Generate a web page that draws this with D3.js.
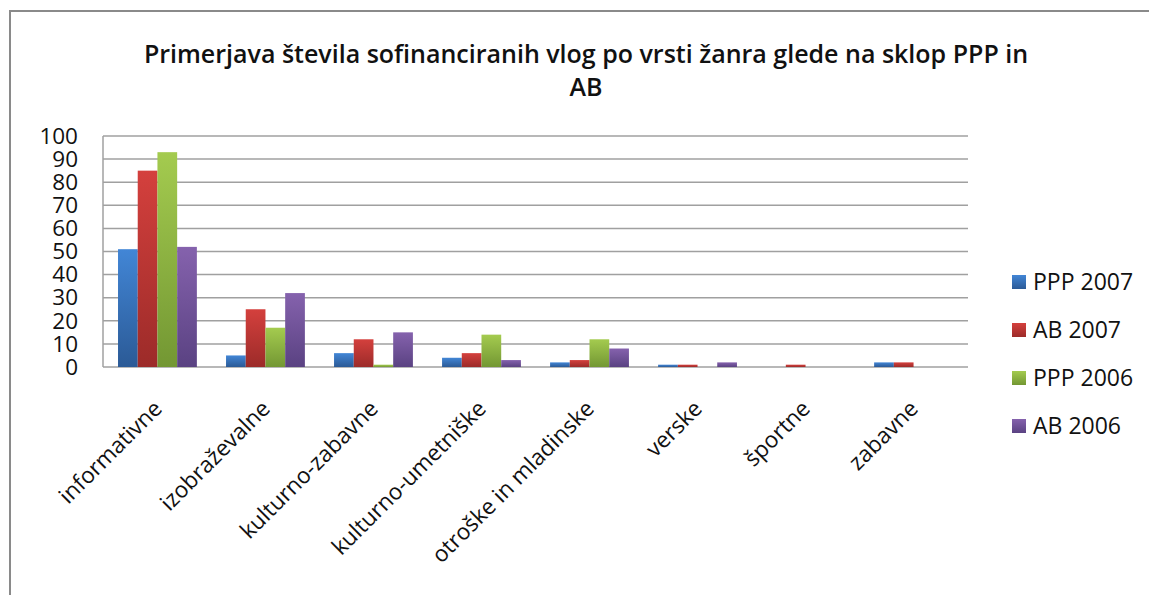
<!DOCTYPE html>
<html>
<head>
<meta charset="utf-8">
<script src="https://cdn.jsdelivr.net/npm/d3@7"></script>
<style>
  body { margin: 0; background: #fff; }
  svg { display: block; font-family: "Open Sans", "DejaVu Sans", sans-serif; }
</style>
</head>
<body>
<div id="chart"></div>
<script>
// data
const categories = ["informativne", "izobraževalne", "kulturno-zabavne", "kulturno-umetniške", "otroške in mladinske", "verske", "športne", "zabavne"];
const seriesNames = ["PPP 2007", "AB 2007", "PPP 2006", "AB 2006"];
const ppp2007 = [51, 5, 6, 4, 2, 1, 0, 2];
const ab2007  = [85, 25, 12, 6, 3, 1, 1, 2];
const ppp2006 = [93, 17, 1, 14, 12, 0, 0, 0];
const ab2006  = [52, 32, 15, 3, 8, 2, 0, 0];
const yTicks = [0, 10, 20, 30, 40, 50, 60, 70, 80, 90, 100];

const series = [ppp2007, ab2007, ppp2006, ab2006];
const colors = [
  { top: "#4286d6", bottom: "#2b5a96" },
  { top: "#d4403d", bottom: "#9c2b29" },
  { top: "#a4cb4f", bottom: "#739733" },
  { top: "#8562ad", bottom: "#5a4282" }
];

const width = 1149, height = 595;
const plot = { left: 103, right: 968, top: 136, bottom: 367 };

const svg = d3.select("#chart").append("svg")
  .attr("width", width).attr("height", height);

const defs = svg.append("defs");
colors.forEach((c, i) => {
  const g = defs.append("linearGradient").attr("id", "grad" + i)
    .attr("x1", 0).attr("y1", 0).attr("x2", 0).attr("y2", 1);
  g.append("stop").attr("offset", "0%").attr("stop-color", c.top);
  g.append("stop").attr("offset", "100%").attr("stop-color", c.bottom);
});

// outer chart frame (runs off the right and bottom of the picture)
svg.append("rect").attr("x", 10).attr("y", 11).attr("width", 1200).attr("height", 700)
  .attr("fill", "none").attr("stroke", "#8a8a8a").attr("stroke-width", 2);

// title
const title = svg.append("text").attr("text-anchor", "middle")
  .attr("font-size", 25).attr("font-weight", 600).attr("fill", "#111");
title.append("tspan").attr("x", 586).attr("y", 63).text("Primerjava števila sofinanciranih vlog po vrsti žanra glede na sklop PPP in");
title.append("tspan").attr("x", 586).attr("y", 96).text("AB");

const x = d3.scaleBand().domain(categories).range([plot.left, plot.right])
  .paddingInner(0.27).paddingOuter(0.139);
const xs = d3.scaleBand().domain(d3.range(series.length)).range([0, x.bandwidth()]);
const y = d3.scaleLinear().domain([0, 100]).range([plot.bottom, plot.top]);

// grid
svg.append("g").selectAll("line").data(yTicks).join("line")
  .attr("x1", plot.left).attr("x2", plot.right)
  .attr("y1", d => y(d)).attr("y2", d => y(d))
  .attr("stroke", "#a0a0a0").attr("stroke-width", 1.5);
svg.append("line").attr("x1", plot.left).attr("x2", plot.left)
  .attr("y1", plot.top).attr("y2", plot.bottom)
  .attr("stroke", "#a0a0a0").attr("stroke-width", 1.5);

// y axis labels
const yAxis = svg.append("g").attr("transform", `translate(${plot.left},0)`)
  .call(d3.axisLeft(y).tickValues(yTicks).tickSize(0).tickPadding(25));
yAxis.select(".domain").remove();
yAxis.selectAll("text").attr("font-size", 22.5).attr("fill", "#111")
  .attr("font-family", "'Open Sans', sans-serif");

// bars
const groups = svg.append("g").selectAll("g").data(series).join("g")
  .attr("fill", (d, i) => `url(#grad${i})`);
groups.each(function (vals, si) {
  d3.select(this).selectAll("rect").data(vals).join("rect")
    .attr("x", (d, ci) => x(categories[ci]) + xs(si))
    .attr("width", xs.bandwidth())
    .attr("y", d => y(d))
    .attr("height", d => y(0) - y(d));
});

// x labels
svg.append("g").selectAll("text").data(categories).join("text")
  .attr("transform", d => `translate(${x(d) + x.bandwidth() / 2 + 6},${plot.bottom + 43}) rotate(-45)`)
  .attr("text-anchor", "end")
  .attr("font-size", 22.5).attr("fill", "#111")
  .text(d => d);

// legend
const legend = svg.append("g").selectAll("g").data(seriesNames).join("g")
  .attr("transform", (d, i) => `translate(1012,${282 + i * 48})`);
legend.append("rect").attr("x", 0).attr("y", -7).attr("width", 14).attr("height", 14)
  .attr("fill", (d, i) => `url(#grad${i})`);
legend.append("text").attr("x", 21).attr("dy", "0.36em")
  .attr("font-size", 23).attr("fill", "#111").text(d => d);
</script>
</body>
</html>
